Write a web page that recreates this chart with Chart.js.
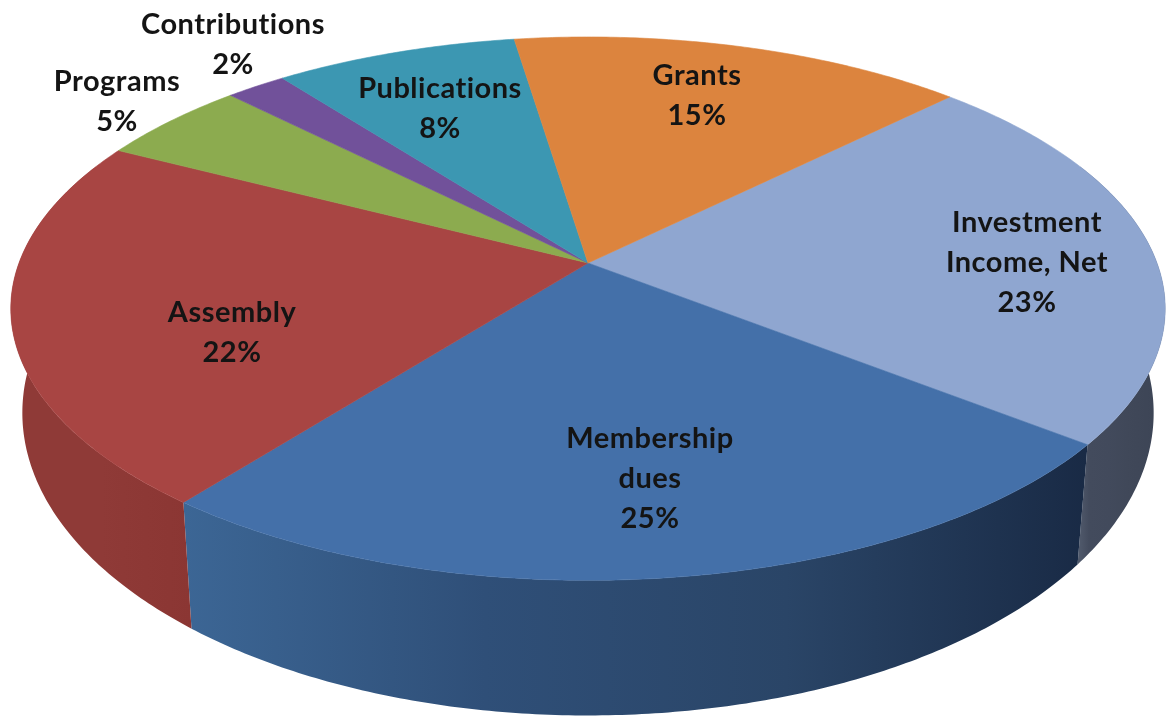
<!DOCTYPE html>
<html>
<head>
<meta charset="utf-8">
<title>Revenue by source</title>
<script src="https://cdn.jsdelivr.net/npm/chart.js@4"></script>
<style>
  html, body { margin: 0; padding: 0; background: #fff; }
  canvas { display: block; }
</style>
</head>
<body>
<canvas id="revenueChart" width="1166" height="717"></canvas>
<script>
const categories = ['Investment Income, Net', 'Membership dues', 'Assembly', 'Programs', 'Contributions', 'Publications', 'Grants'];
const values = [23, 25, 22, 5, 2, 8, 15];
const labelLines = [['Investment', 'Income, Net'], ['Membership', 'dues'], ['Assembly'], ['Programs'], ['Contributions'], ['Publications'], ['Grants']];

const topColors = ['#8fa6d0', '#4470a9', '#a84543', '#8cab4f', '#71519a', '#3c97b2', '#dc843e'];
const wallColors = [
  ['#5c6678', '#434b5d', '#424a5c', '#404859', '#3e4657', '#3c4455'],
  ['#3c6695', '#2f4f78', '#2a4567', '#192a45'],
  ['#8f3a37', '#8f3a37', '#8b3633'],
  [], [], [], []
];

// where each label block is centred, first line's middle y
const labelSpots = [[1027, 223], [650, 439], [232, 313], [117, 82], [233, 25], [440, 89], [697, 76]];
const lineGap = 40;

// perspective of the top disc: unit circle to page pixels
const view = { x0: 588, y0: 263, a: 569, b: 264, k: 0.168 };
// the lower rim is the upper rim stretched and shifted
const rim = { cx: 588, sx: 0.98, sy: 1.114, dy: 69 };

function project(angle) {
  const u = Math.cos(angle), v = Math.sin(angle);
  const d = 1 - view.k * v;
  return [view.x0 + view.a * u / d, view.y0 + view.b * v / d];
}

function lower(p) {
  return [rim.cx + (p[0] - rim.cx) * rim.sx, p[1] * rim.sy + rim.dy];
}

function sampleArc(start, end) {
  const pts = [];
  const steps = Math.max(2, Math.ceil((end - start) / 0.01));
  for (let i = 0; i <= steps; i++) {
    pts.push(project(start + (end - start) * i / steps));
  }
  return pts;
}

function tracePoly(ctx, pts) {
  ctx.beginPath();
  pts.forEach((p, i) => i ? ctx.lineTo(p[0], p[1]) : ctx.moveTo(p[0], p[1]));
  ctx.closePath();
}

function drawWall(ctx, arc, stops) {
  if (!stops.length) return;
  // a bit past the side tangents, the top disc hides the rest
  const start = Math.max(arc.startAngle, -0.4);
  const end = Math.min(arc.endAngle, Math.PI + 0.4);
  if (end <= start) return;
  const upper = sampleArc(start, end);
  const poly = upper.concat(upper.map(lower).reverse());
  const xs = poly.map(p => p[0]);
  const grad = ctx.createLinearGradient(Math.min(...xs), 0, Math.max(...xs), 0);
  stops.forEach((c, i) => grad.addColorStop(i / (stops.length - 1), c));
  tracePoly(ctx, poly);
  ctx.fillStyle = grad;
  ctx.fill();
}

function drawTop(ctx, arc, color) {
  const poly = [[view.x0, view.y0]].concat(sampleArc(arc.startAngle, arc.endAngle));
  tracePoly(ctx, poly);
  ctx.fillStyle = color;
  ctx.strokeStyle = color;
  ctx.lineWidth = 0.6;
  ctx.fill();
  ctx.stroke();
}

const tiltedPie = {
  id: 'tiltedPie',
  // replaces the flat arcs with the tilted disc, using the angles the chart computed
  beforeDatasetDraw(chart) {
    const ctx = chart.ctx;
    const arcs = chart.getDatasetMeta(0).data;
    ctx.save();
    arcs.forEach((arc, i) => drawWall(ctx, arc, wallColors[i]));
    arcs.forEach((arc, i) => drawTop(ctx, arc, topColors[i]));
    ctx.restore();
    return false;
  },
  afterDraw(chart) {
    const ctx = chart.ctx;
    ctx.save();
    ctx.font = 'bold 29px Lato';
    ctx.letterSpacing = '0.5px';
    ctx.fillStyle = '#141414';
    ctx.textAlign = 'center';
    ctx.textBaseline = 'middle';
    labelLines.forEach((lines, i) => {
      const [x, y] = labelSpots[i];
      lines.concat(values[i] + '%').forEach((line, n) => ctx.fillText(line, x, y + n * lineGap));
    });
    ctx.restore();
  }
};

new Chart(document.getElementById('revenueChart'), {
  type: 'pie',
  data: {
    labels: categories,
    datasets: [{
      data: values,
      backgroundColor: topColors,
      borderWidth: 0
    }]
  },
  options: {
    responsive: false,
    animation: false,
    rotation: 45.3,
    plugins: {
      legend: { display: false },
      tooltip: { enabled: false }
    }
  },
  plugins: [tiltedPie]
});
</script>
</body>
</html>
